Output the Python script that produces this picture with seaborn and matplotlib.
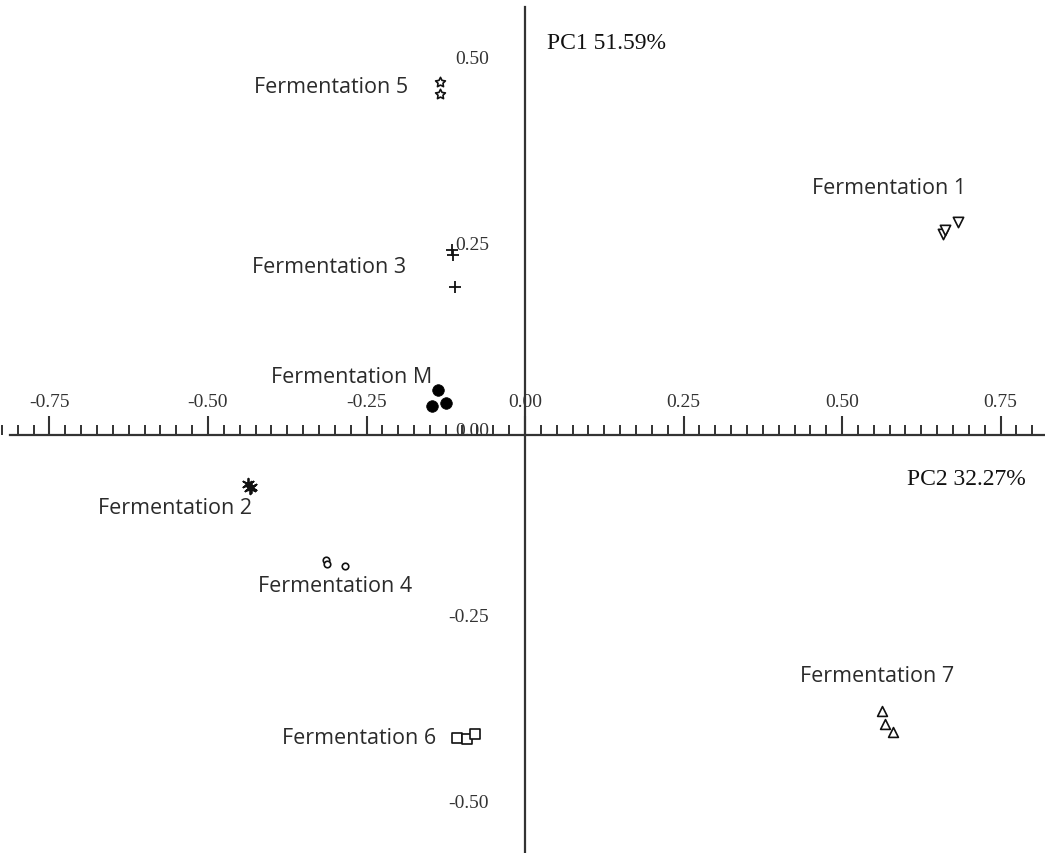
import numpy as np
import pandas as pd
import matplotlib
matplotlib.use("Agg")
import matplotlib.pyplot as plt
from matplotlib.ticker import MultipleLocator
import seaborn as sns

# PCA scores for each fermentation (three replicates, two for F5)
groups = ["Fermentation 1", "Fermentation 2", "Fermentation 3", "Fermentation 4",
          "Fermentation 5", "Fermentation 6", "Fermentation 7", "Fermentation M"]
pc1_f1 = [0.659, 0.663, 0.683]
pc2_f1 = [0.270, 0.276, 0.286]
pc1_f2 = [-0.437, -0.432, -0.434]
pc2_f2 = [-0.066, -0.070, -0.072]
pc1_f3 = [-0.115, -0.113, -0.110]
pc2_f3 = [0.249, 0.242, 0.199]
pc1_f4 = [-0.314, -0.313, -0.284]
pc2_f4 = [-0.168, -0.174, -0.176]
pc1_f5 = [-0.134, -0.134]
pc2_f5 = [0.474, 0.458]
pc1_f6 = [-0.107, -0.092, -0.079]
pc2_f6 = [-0.407, -0.409, -0.402]
pc1_f7 = [0.563, 0.568, 0.580]
pc2_f7 = [-0.371, -0.388, -0.399]
pc1_fm = [-0.137, -0.147, -0.125]
pc2_fm = [0.060, 0.039, 0.043]

x_ticks = [-0.75, -0.50, -0.25, 0.00, 0.25, 0.50, 0.75]
y_ticks = [-0.50, -0.25, 0.00, 0.25, 0.50]
axis_title_x = "PC1 51.59%"
axis_title_y = "PC2 32.27%"

pc1_all = [pc1_f1, pc1_f2, pc1_f3, pc1_f4, pc1_f5, pc1_f6, pc1_f7, pc1_fm]
pc2_all = [pc2_f1, pc2_f2, pc2_f3, pc2_f4, pc2_f5, pc2_f6, pc2_f7, pc2_fm]
df = pd.concat(
    [pd.DataFrame({"group": g, "pc1": a, "pc2": b}) for g, a, b in zip(groups, pc1_all, pc2_all)],
    ignore_index=True,
)

# marker style per group: (marker, size, filled)
marker_style = {
    "Fermentation 1": ("v", 55, False),
    "Fermentation 2": ((6, 2, 0), 70, False),
    "Fermentation 3": ("+", 70, False),
    "Fermentation 4": ("o", 22, False),
    "Fermentation 5": ((5, 1, 0), 55, False),
    "Fermentation 6": ("s", 45, False),
    "Fermentation 7": ("^", 50, False),
    "Fermentation M": ("o", 70, True),
}
# label anchor points (data coordinates)
label_pos = {
    "Fermentation 1": (0.574, 0.333),
    "Fermentation 2": (-0.552, -0.097),
    "Fermentation 3": (-0.309, 0.226),
    "Fermentation 4": (-0.300, -0.203),
    "Fermentation 5": (-0.306, 0.468),
    "Fermentation 6": (-0.262, -0.407),
    "Fermentation 7": (0.555, -0.324),
    "Fermentation M": (-0.274, 0.078),
}

sns.set_theme(style="white")
plt.rcParams["font.family"] = ["DejaVu Sans"]

fig = plt.figure(figsize=(10.45, 8.54), dpi=100)
ax = fig.add_axes([0, 0, 1, 1])
ax.set_xlim(-0.828, 0.820)
ax.set_ylim(-0.562, 0.586)

for g in groups:
    sub = df[df["group"] == g]
    m, s, filled = marker_style[g]
    if m == "+" or (isinstance(m, tuple) and m[1] == 2):
        sns.scatterplot(data=sub, x="pc1", y="pc2", marker=m, s=s, color="#111111",
                        linewidth=1.3, ax=ax, zorder=5)
    elif filled:
        sns.scatterplot(data=sub, x="pc1", y="pc2", marker=m, s=s, color="#000000",
                        edgecolor="#000000", linewidth=0.5, ax=ax, zorder=5)
    else:
        sns.scatterplot(data=sub, x="pc1", y="pc2", marker=m, s=s, facecolor="white",
                        edgecolor="#111111", linewidth=1.2, ax=ax, zorder=5)
    lx, ly = label_pos[g]
    ax.text(lx, ly, g, ha="center", va="center", fontsize=15.5,
            family=["Open Sans", "DejaVu Sans"], color="#2b2b2b")

ax.text(0.035, 0.528, axis_title_x, ha="left", va="center", fontsize=17,
        family=["Liberation Serif", "DejaVu Serif"], color="#111111")
ax.text(0.603, -0.059, axis_title_y, ha="left", va="center", fontsize=17,
        family=["Liberation Serif", "DejaVu Serif"], color="#111111")

# axes crossing at the origin
for side in ["right", "bottom"]:
    ax.spines[side].set_visible(False)
ax.spines["top"].set_position(("data", 0))
ax.spines["left"].set_position(("data", 0))
ax.spines["top"].set_bounds(-0.812, 0.820)
ax.spines["left"].set_bounds(-0.562, 0.575)
for side in ["top", "left"]:
    ax.spines[side].set_color("#333333")
    ax.spines[side].set_linewidth(1.6)

ax.xaxis.set_ticks_position("top")
ax.xaxis.set_label_position("top")
ax.set_xticks(x_ticks)
ax.set_xticklabels([f"{v:.2f}" for v in x_ticks])
ax.set_yticks(y_ticks)
ax.set_yticklabels([f"{v:.2f}" for v in y_ticks])
ax.xaxis.set_minor_locator(MultipleLocator(0.025))
ax.yaxis.set_minor_locator(MultipleLocator(0.025))

ax.tick_params(axis="x", which="major", direction="out", length=14, width=1.5,
               color="#333333", pad=4, labelsize=14, labelcolor="#333333",
               top=True, bottom=False, labeltop=True, labelbottom=False)
ax.tick_params(axis="x", which="minor", direction="out", length=7, width=1.4,
               color="#333333", top=True, bottom=False)
ax.tick_params(axis="y", which="major", direction="out", length=17, width=1.5,
               color="#333333", pad=9, labelsize=14, labelcolor="#333333")
ax.tick_params(axis="y", which="minor", direction="out", length=9, width=1.4,
               color="#333333")
for lab in ax.get_xticklabels() + ax.get_yticklabels():
    lab.set_fontfamily(["Liberation Serif", "DejaVu Serif"])
for lab in ax.get_yticklabels():
    lab.set_verticalalignment("baseline")

ax.set_xlabel("")
ax.set_ylabel("")
ax.grid(False)

fig.savefig("out.png", dpi=100, facecolor="white")
